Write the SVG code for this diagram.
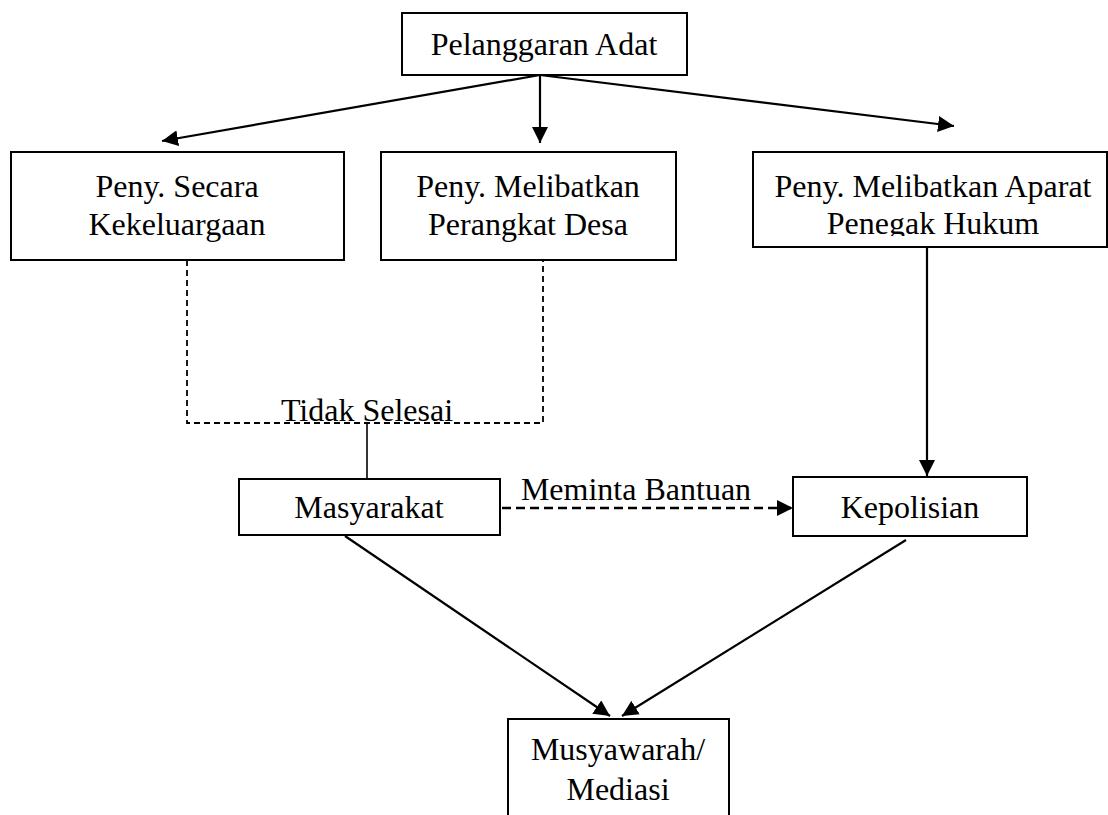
<svg xmlns="http://www.w3.org/2000/svg" width="1108" height="815" viewBox="0 0 1108 815">
<style>
.box{fill:#fff;stroke:#000;stroke-width:2}
.t{font-family:"Liberation Serif","Times New Roman",serif;font-size:32px;fill:#000;text-anchor:middle}
.ln{fill:none;stroke:#000;stroke-width:2.2}
.dash{fill:none;stroke:#000;stroke-width:1.8;stroke-dasharray:6 4}
.dash2{fill:none;stroke:#000;stroke-width:2.4;stroke-dasharray:9 5}
</style>
<defs>
<marker id="ah" markerWidth="16" markerHeight="16" viewBox="0 0 16 16" refX="16" refY="8" orient="auto" markerUnits="userSpaceOnUse">
<path d="M0,0 L16,8 L0,16 Z" fill="#000"/>
</marker>
<clipPath id="c3"><rect x="753" y="152" width="355" height="84"/></clipPath>
</defs>
<rect width="1108" height="815" fill="#fff"/>
<g id="connectors">
<line class="ln" x1="540" y1="75" x2="162" y2="141" marker-end="url(#ah)"/>
<line class="ln" x1="540" y1="75" x2="540" y2="143" marker-end="url(#ah)"/>
<line class="ln" x1="540" y1="75" x2="954" y2="126" marker-end="url(#ah)"/>
<polyline class="dash" points="187,260 187,423 543,423 543,260"/>
<line class="ln" x1="367" y1="423" x2="367" y2="479" style="stroke-width:1.6"/>
<line class="ln" x1="927" y1="247" x2="927" y2="476" marker-end="url(#ah)"/>
<line class="dash2" x1="502" y1="508" x2="793" y2="508" marker-end="url(#ah)"/>
<line class="ln" x1="345" y1="536" x2="610" y2="716" marker-end="url(#ah)"/>
<line class="ln" x1="906" y1="540" x2="622" y2="716" marker-end="url(#ah)"/>
<text class="t" x="367" y="421">Tidak Selesai</text>
<text class="t" x="636" y="500">Meminta Bantuan</text>
</g>
<g id="n-pelanggaran">
<rect class="box" x="402" y="13" width="285" height="62"/>
<text class="t" x="544" y="55">Pelanggaran Adat</text>
</g>
<g id="n-kekeluargaan">
<rect class="box" x="11" y="152" width="333" height="108"/>
<text class="t" x="177" y="197">Peny. Secara</text>
<text class="t" x="177" y="235">Kekeluargaan</text>
</g>
<g id="n-perangkat">
<rect class="box" x="381" y="152" width="295" height="108"/>
<text class="t" x="528" y="197">Peny. Melibatkan</text>
<text class="t" x="528" y="235">Perangkat Desa</text>
</g>
<g id="n-aparat">
<rect class="box" x="753" y="152" width="354" height="95"/>
<g clip-path="url(#c3)">
<text class="t" x="933" y="197">Peny. Melibatkan Aparat</text>
<text class="t" x="933" y="234">Penegak Hukum</text>
</g>
</g>
<g id="n-masyarakat">
<rect class="box" x="239" y="479" width="261" height="56"/>
<text class="t" x="369" y="518">Masyarakat</text>
</g>
<g id="n-kepolisian">
<rect class="box" x="793" y="477" width="234" height="59"/>
<text class="t" x="910" y="518">Kepolisian</text>
</g>
<g id="n-musyawarah">
<rect class="box" x="508" y="719" width="221" height="110"/>
<text class="t" x="618" y="760">Musyawarah/</text>
<text class="t" x="618" y="800">Mediasi</text>
</g>
</svg>
